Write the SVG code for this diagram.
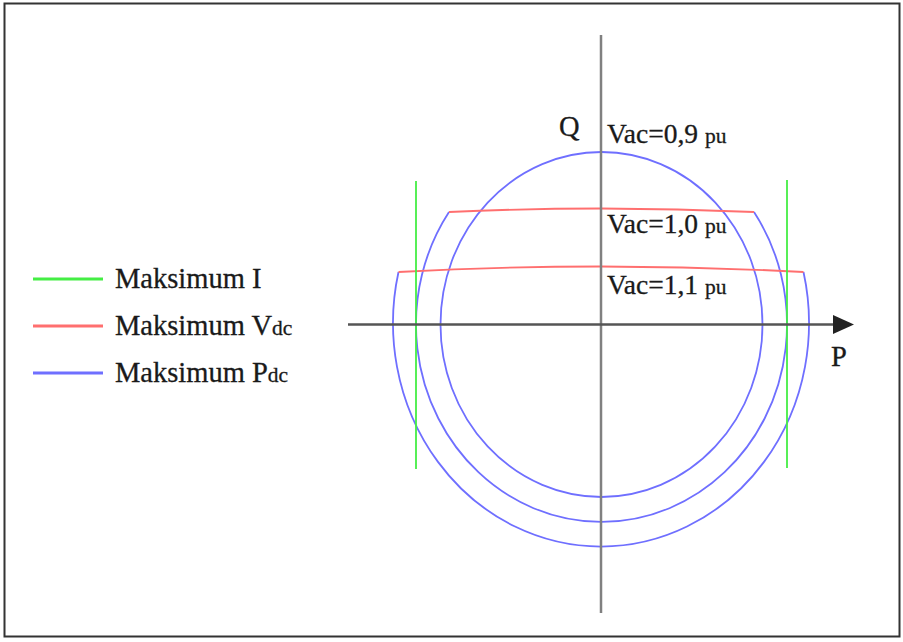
<svg xmlns="http://www.w3.org/2000/svg" width="903" height="642" viewBox="0 0 903 642">
<style>
text{font-family:"Liberation Serif","Times New Roman",serif;fill:#1a1a1a;stroke:#1a1a1a;stroke-width:0.3}
.big{font-size:28.5px}
.lbl{font-size:27.5px}
.sub{font-size:21.5px}
.blue{fill:none;stroke:#6f6fff;stroke-width:1.8}
.red{fill:none;stroke:#ff6f6f;stroke-width:1.8}
.green{fill:none;stroke:#44ee44;stroke-width:1.8}
</style>
<rect x="0" y="0" width="903" height="642" fill="#ffffff"/>
<rect id="frame" x="4.5" y="3.5" width="895" height="633" fill="none" stroke="#333" stroke-width="2"/>
<g id="legend">
<g id="legend-i"><line x1="33" y1="279" x2="103" y2="279" class="green" style="stroke-width:3"/><text class="big" x="115" y="288">Maksimum I</text></g>
<g id="legend-vdc"><line x1="33" y1="326" x2="103" y2="326" class="red" style="stroke-width:3"/><text class="big" x="115" y="335">Maksimum V<tspan class="sub">dc</tspan></text></g>
<g id="legend-pdc"><line x1="33" y1="373" x2="103" y2="373" class="blue" style="stroke-width:3"/><text class="big" x="115" y="382">Maksimum P<tspan class="sub">dc</tspan></text></g>
</g>
<g id="curves">
<ellipse id="pdc-09" cx="601.5" cy="324.5" rx="161" ry="172.5" class="blue"/>
<path id="pdc-10" d="M 449 212 A 185.5 197.5 0 1 0 754 212" class="blue"/>
<path id="pdc-11" d="M 398.5 272 A 208 223.5 0 1 0 803.5 272" class="blue"/>
<path id="vdc-10" d="M 449 212 Q 601 205 754 212" class="red"/>
<path id="vdc-11" d="M 398.5 272 Q 601 261 803.5 272" class="red"/>
<line id="imax-left" x1="416" y1="181" x2="416" y2="469" class="green"/>
<line id="imax-right" x1="787" y1="180" x2="787" y2="468" class="green"/>
</g>
<g id="axes">
<line x1="601" y1="35" x2="601" y2="613" stroke="#808080" stroke-width="2.5"/>
<line x1="348" y1="324.5" x2="836" y2="324.5" stroke="#555" stroke-width="2.5"/>
<polygon points="833,315 854,324.5 833,334" fill="#222"/>
</g>
<g id="labels">
<text class="big" x="559" y="136">Q</text>
<text class="big" x="831" y="366">P</text>
<text class="lbl" x="607" y="143">Vac=0,9 <tspan class="sub">pu</tspan></text>
<text class="lbl" x="607" y="233">Vac=1,0 <tspan class="sub">pu</tspan></text>
<text class="lbl" x="607" y="294">Vac=1,1 <tspan class="sub">pu</tspan></text>
</g>
</svg>
